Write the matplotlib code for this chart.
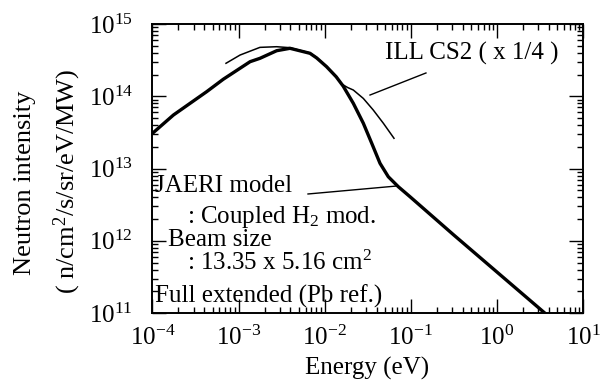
import numpy as np
import matplotlib
matplotlib.use('Agg')
import matplotlib.pyplot as plt

plt.rcParams['font.family'] = ['Liberation Serif', 'DejaVu Serif']
plt.rcParams['mathtext.fontset'] = 'custom'
plt.rcParams['mathtext.rm'] = 'Liberation Serif'
plt.rcParams['mathtext.it'] = 'Liberation Serif:italic'
plt.rcParams['axes.unicode_minus'] = False

# JAERI coupled H2 moderator spectrum (thick line)
jaeri_e = [1.00e-4, 1.75e-4, 4.27e-4, 6.64e-4, 1.36e-3, 1.77e-3, 2.77e-3, 3.95e-3,
           6.75e-3, 8.07e-3, 1.05e-2, 1.36e-2, 1.64e-2, 2.15e-2, 2.81e-2, 3.52e-2,
           4.39e-2, 5.48e-2, 7.16e-2, 9.79e-2, 0.316, 3.46, 3.98]
jaeri_i = [3.07e13, 5.50e13, 1.16e14, 1.72e14, 3.01e14, 3.35e14, 4.27e14, 4.61e14,
           3.93e14, 3.39e14, 2.57e14, 1.86e14, 1.38e14, 7.98e13, 4.23e13, 2.23e13,
           1.18e13, 7.69e12, 5.60e12, 4.07e12, 1.20e12, 1.04e11, 9.0e10]

# ILL CS2 (x 1/4) (thin line)
ill_e = [7.14e-4, 1.04e-3, 1.77e-3, 2.77e-3, 3.95e-3, 6.75e-3, 8.07e-3, 1.05e-2,
         1.36e-2, 1.57e-2, 1.85e-2, 2.15e-2, 2.81e-2, 3.66e-2, 4.80e-2, 6.38e-2]
ill_i = [2.86e14, 3.72e14, 4.75e14, 4.85e14, 4.70e14, 3.98e14, 3.44e14, 2.60e14,
         1.88e14, 1.48e14, 1.32e14, 1.22e14, 9.33e13, 6.46e13, 4.23e13, 2.62e13]

# leader lines for the labels
ill_lead_e = [3.36e-2, 0.150]
ill_lead_i = [1.04e14, 2.1e14]
jaeri_lead_e = [6.4e-3, 6.92e-2]
jaeri_lead_i = [4.44e12, 5.73e12]

fig = plt.figure(figsize=(6.09, 3.86), dpi=100)
ax = fig.add_axes([0.2504, 0.1891, 0.7069, 0.7487])

ax.plot(jaeri_e, jaeri_i, color='black', lw=2.4, solid_capstyle='round')
ax.plot(ill_e, ill_i, color='black', lw=1.1)
ax.plot(ill_lead_e, ill_lead_i, color='black', lw=1.0)
ax.plot(jaeri_lead_e, jaeri_lead_i, color='black', lw=1.0)

ax.set_xscale('log')
ax.set_yscale('log')
ax.set_xlim(1e-4, 1e1)
ax.set_ylim(1e11, 1e15)

for s in ax.spines.values():
    s.set_linewidth(1.4)
ax.tick_params(which='both', direction='in', top=True, right=True, width=1.0)
ax.tick_params(which='major', length=10)
ax.tick_params(which='minor', length=4)
ax.tick_params(axis='x', labelsize=18, pad=9)
ax.tick_params(axis='y', labelsize=18, pad=14)

fs = 18
ax.text(0.540, 0.8754, 'ILL CS2 ( x 1/4 )', transform=ax.transAxes, fontsize=fs, va='baseline')
ax.text(0.006, 0.4187, 'JAERI model', transform=ax.transAxes, fontsize=fs, va='baseline')
ax.text(0.079, 0.312, ': Coupled H$_2$ mod.', transform=ax.transAxes, fontsize=fs, va='baseline')
ax.text(0.036, 0.233, 'Beam size', transform=ax.transAxes, fontsize=fs, va='baseline')
ax.text(0.079, 0.149, ': 13.35 x 5.16 cm$^2$', transform=ax.transAxes, fontsize=fs, va='baseline')
ax.text(0.006, 0.0346, 'Full extended (Pb ref.)', transform=ax.transAxes, fontsize=fs, va='baseline')

fig.text(25 / 609, 1 - 183 / 386, 'Neutron intensity', rotation=90, fontsize=19,
         ha='center', va='center')
fig.text(67 / 609, 1 - 181 / 386, '( n/cm$^2$/s/sr/eV/MW)', rotation=90, fontsize=19,
         ha='center', va='center')
fig.text(367 / 609, 1 - 368 / 386, 'Energy (eV)', fontsize=18, ha='center', va='center')

fig.savefig('out.png', dpi=100)
